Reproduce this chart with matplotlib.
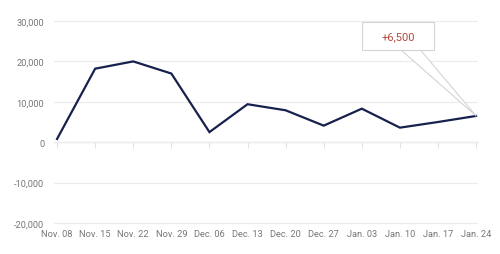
import matplotlib
matplotlib.use("Agg")
import matplotlib.pyplot as plt
from matplotlib.ticker import FuncFormatter
from matplotlib.patches import Rectangle

categories = ["Nov. 08", "Nov. 15", "Nov. 22", "Nov. 29", "Dec. 06", "Dec. 13",
              "Dec. 20", "Dec. 27", "Jan. 03", "Jan. 10", "Jan. 17", "Jan. 24"]
values = [800, 18200, 20000, 17000, 2500, 9400, 7900, 4100, 8300, 3600, 5000, 6500]
y_ticks = [-20000, -10000, 0, 10000, 20000, 30000]
annotation_label = "+6,500"

plt.rcParams['font.family'] = ['Roboto', 'DejaVu Sans']

fig = plt.figure(figsize=(5.0, 2.55), dpi=100)
ax = fig.add_axes([54/500, 1-226/255, (478-54)/500, (226-20)/255])

x = list(range(len(categories)))
ax.plot(x, values, color='#16214d', lw=1.6, solid_joinstyle='miter', zorder=3)

ax.set_xlim(-0.08, len(categories) - 1 + 0.05)
ax.set_ylim(-20500, 30500)
ax.set_yticks(y_ticks)
ax.yaxis.set_major_formatter(FuncFormatter(lambda v, p: f"{int(v):,}"))
ax.set_xticks(x)
ax.set_xticklabels(categories)
ax.grid(axis='y', color='#ececec', lw=0.9)
ax.set_axisbelow(True)
for s in ax.spines.values():
    s.set_visible(False)
ax.tick_params(axis='both', length=0, labelsize=6.7, colors='#777777')
ax.tick_params(axis='x', pad=3)
ax.tick_params(axis='y', pad=7)

# zero axis with ticks
sec = ax.secondary_xaxis((0 - (-20500)) / (30500 - (-20500)))
sec.set_xticks(x)
sec.set_xticklabels([''] * len(x))
sec.tick_params(axis='x', direction='out', length=4, color='#e2e2e2', width=0.8)
sec.spines['bottom'].set_color('#e6e6e6')
sec.spines['bottom'].set_linewidth(1.0)

# callout box + pointer
box = Rectangle((0.726, 0.850), 0.170, 0.135, transform=ax.transAxes,
                fc='white', ec='#d4d4d4', lw=0.8, zorder=6)
ax.add_patch(box)
ax.annotate('', xy=(x[-1], values[-1]), xycoords='data',
            xytext=(0.811, 0.917), textcoords='axes fraction',
            arrowprops=dict(arrowstyle='wedge,tail_width=1.2,shrink_factor=0.5',
                            fc='white', ec='#d4d4d4', lw=0.8, shrinkB=0,
                            shrinkA=0, mutation_scale=10),
            zorder=5)
ax.text(0.811, 0.917, annotation_label, transform=ax.transAxes,
        ha='center', va='center', fontsize=8, color='#b3473c', zorder=7)

fig.savefig('out.png', dpi=100)
